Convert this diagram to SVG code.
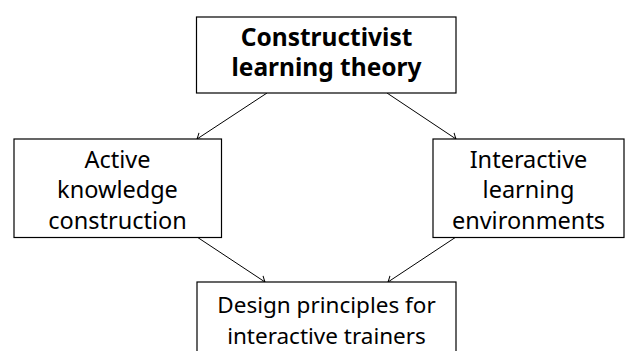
<svg xmlns="http://www.w3.org/2000/svg" width="627" height="351" viewBox="0 0 627 351">
<defs>
<style>
.box{fill:#fff;stroke:#000;stroke-width:1.2}
.t{font-family:"Noto Sans","DejaVu Sans",sans-serif;font-size:23.5px;fill:#000;text-anchor:middle}
.b{font-weight:bold;font-size:24.5px}
.s{font-size:22.5px}
.edge{stroke:#000;stroke-width:1;fill:none;marker-end:url(#arr)}
</style>
<marker id="arr" viewBox="-6 -5 8 10" markerWidth="8" markerHeight="10" refX="0" refY="0" orient="auto" markerUnits="userSpaceOnUse">
<path d="M-5,-4 Q-1.5,-1 0,0 Q-1.5,1 -5,4" fill="none" stroke="#000" stroke-width="1"/>
</marker>
</defs>
<rect width="627" height="351" fill="#fff"/>
<g id="connectors">
<line class="edge" x1="267" y1="93" x2="197" y2="139"/>
<line class="edge" x1="387" y1="93" x2="456" y2="139"/>
<line class="edge" x1="197" y1="237" x2="265" y2="282"/>
<line class="edge" x1="456" y1="237" x2="388" y2="282"/>
</g>
<g id="n1">
<rect class="box" x="196.5" y="17" width="259.5" height="76"/>
<text class="t b" x="326.5" y="46">Constructivist</text>
<text class="t b" x="326.5" y="76">learning theory</text>
</g>
<g id="n2">
<rect class="box" x="14" y="139" width="207.5" height="98.5"/>
<text class="t" x="117.5" y="167.5">Active</text>
<text class="t" x="117.5" y="198">knowledge</text>
<text class="t" x="117.5" y="228.5">construction</text>
</g>
<g id="n3">
<rect class="box" x="433" y="139" width="191" height="98.5"/>
<text class="t" x="528.5" y="167.5">Interactive</text>
<text class="t" x="528.5" y="198">learning</text>
<text class="t" x="528.5" y="228.5">environments</text>
</g>
<g id="n4">
<rect class="box" x="197" y="282" width="259" height="90"/>
<text class="t s" x="326.5" y="313">Design principles for</text>
<text class="t s" x="326.5" y="344">interactive trainers</text>
</g>
</svg>
